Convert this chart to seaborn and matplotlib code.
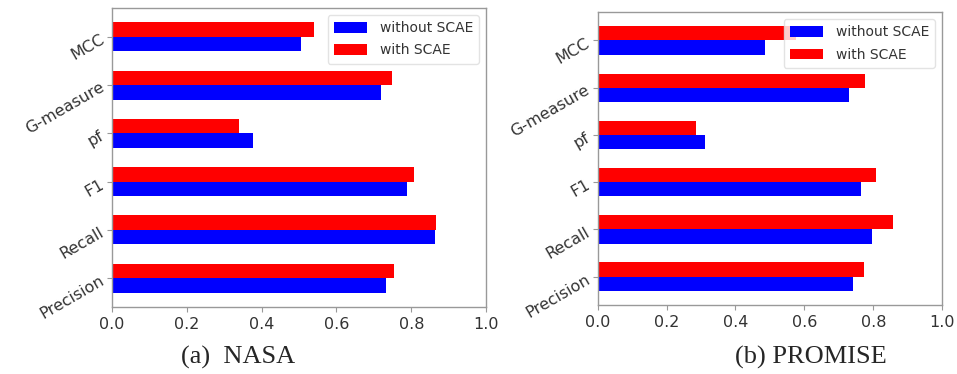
import pandas as pd
import matplotlib
matplotlib.use("Agg")
import matplotlib.pyplot as plt
import seaborn as sns

metrics = ['MCC', 'G-measure', 'pf', 'F1', 'Recall', 'Precision']

# NASA
nasa_without = [0.504, 0.719, 0.377, 0.789, 0.863, 0.733]
nasa_with = [0.539, 0.748, 0.340, 0.806, 0.865, 0.753]

# PROMISE
promise_without = [0.485, 0.729, 0.313, 0.764, 0.797, 0.740]
promise_with = [0.575, 0.775, 0.285, 0.809, 0.858, 0.773]

groups = ['without SCAE', 'with SCAE']
colors = {'without SCAE': '#0000ff', 'with SCAE': '#ff0000'}


def make_df(without, with_):
    rows = []
    for m, a, b in zip(metrics, without, with_):
        rows.append({'metric': m, 'value': a, 'group': 'without SCAE'})
        rows.append({'metric': m, 'value': b, 'group': 'with SCAE'})
    return pd.DataFrame(rows)


sns.set_style('white')
plt.rcParams['font.family'] = ['DejaVu Sans']

fig = plt.figure(figsize=(9.57, 3.74), dpi=100)
ax1 = fig.add_axes([0.117, 0.179, 0.391, 0.800])
ax2 = fig.add_axes([0.6245, 0.1845, 0.360, 0.783])


def draw(ax, df):
    sns.barplot(data=df, y='metric', x='value', hue='group', order=metrics,
                hue_order=['with SCAE', 'without SCAE'], palette=colors,
                saturation=1, width=0.6, linewidth=0, orient='h', ax=ax)
    ax.set_xlim(0, 1.0)
    ax.set_ylim(5.6, -0.6)
    ax.set_xticks([0.0, 0.2, 0.4, 0.6, 0.8, 1.0])
    ax.set_xticklabels(['0.0', '0.2', '0.4', '0.6', '0.8', '1.0'], fontsize=11.5, color='#333333')
    ax.set_yticks(range(len(metrics)))
    ax.set_yticklabels(metrics, rotation=30, ha='right', rotation_mode='anchor',
                       fontsize=11.5, color='#333333')
    ax.tick_params(axis='both', length=3.5, width=0.8, color='#999999', left=True, bottom=True)
    ax.set_xlabel('')
    ax.set_ylabel('')
    for s in ax.spines.values():
        s.set_color('#999999')
        s.set_linewidth(1.0)
    h, l = ax.get_legend_handles_labels()
    lookup = dict(zip(l, h))
    ax.legend([lookup[g] for g in groups], groups, loc='upper right',
              bbox_to_anchor=(1.0, 1.0), borderaxespad=0.5, fontsize=10,
              handlelength=2.4, handleheight=0.8, labelspacing=0.6,
              handletextpad=0.9, borderpad=0.45, frameon=True,
              edgecolor='#dddddd', fancybox=True, labelcolor='#333333')


draw(ax1, make_df(nasa_without, nasa_with))
draw(ax2, make_df(promise_without, promise_with))

fig.text(0.249, 0.043, '(a)  NASA', ha='center', va='center', fontsize=19,
         family=['Liberation Serif'])
fig.text(0.847, 0.043, '(b) PROMISE', ha='center', va='center', fontsize=19,
         family=['Liberation Serif'])

fig.savefig('out.png', dpi=100)
